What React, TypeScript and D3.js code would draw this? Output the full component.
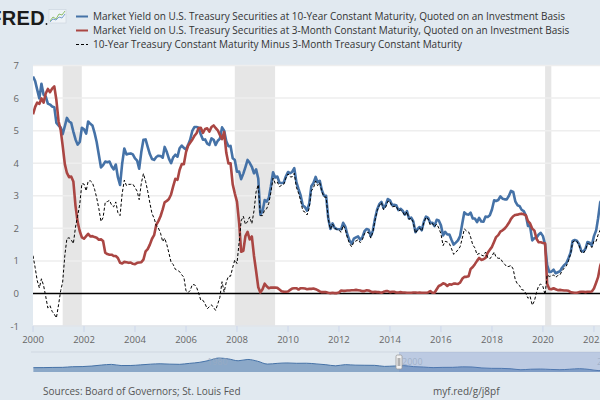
import React from "react";
import * as d3 from "d3";

const W = 600;
const H = 400;

// Monthly values, Jan 2000 .. May 2022
const tenYear = [
  6.66, 6.52, 6.26, 5.99, 6.44, 6.10, 6.05, 5.83, 5.80, 5.74, 5.72, 5.24,
  5.16, 5.10, 4.89, 5.14, 5.39, 5.28, 5.24, 4.97, 4.73, 4.57, 4.65, 5.09,
  5.04, 4.91, 5.28, 5.21, 5.16, 4.93, 4.65, 4.26, 3.87, 3.94, 4.05, 4.03,
  4.05, 3.90, 3.81, 3.96, 3.57, 3.33, 3.98, 4.45, 4.27, 4.29, 4.30, 4.27,
  4.15, 4.08, 3.83, 4.35, 4.72, 4.73, 4.50, 4.28, 4.13, 4.10, 4.19, 4.23,
  4.22, 4.17, 4.50, 4.34, 4.14, 4.00, 4.18, 4.26, 4.20, 4.46, 4.54, 4.47,
  4.42, 4.57, 4.72, 4.99, 5.11, 5.11, 5.09, 4.88, 4.72, 4.73, 4.60, 4.56,
  4.76, 4.72, 4.56, 4.69, 4.75, 5.10, 5.00, 4.67, 4.52, 4.53, 4.15, 4.10,
  3.74, 3.74, 3.51, 3.68, 3.88, 4.10, 4.01, 3.89, 3.69, 3.81, 3.53, 2.42,
  2.52, 2.87, 2.82, 2.93, 3.29, 3.72, 3.56, 3.59, 3.40, 3.39, 3.40, 3.59,
  3.73, 3.69, 3.73, 3.85, 3.42, 3.20, 3.01, 2.70, 2.65, 2.54, 2.76, 3.29,
  3.39, 3.58, 3.41, 3.46, 3.17, 3.00, 3.00, 2.30, 1.98, 2.15, 2.01, 1.98,
  1.97, 1.97, 2.17, 2.05, 1.80, 1.62, 1.53, 1.68, 1.72, 1.75, 1.65, 1.72,
  1.91, 1.98, 1.96, 1.76, 1.93, 2.30, 2.58, 2.74, 2.81, 2.62, 2.72, 2.90,
  2.86, 2.71, 2.72, 2.71, 2.56, 2.60, 2.54, 2.42, 2.53, 2.30, 2.33, 2.21,
  1.88, 1.98, 2.04, 1.94, 2.20, 2.36, 2.32, 2.17, 2.17, 2.07, 2.26, 2.24,
  2.09, 1.78, 1.89, 1.81, 1.81, 1.64, 1.50, 1.56, 1.63, 1.76, 2.14, 2.49,
  2.43, 2.42, 2.48, 2.30, 2.30, 2.19, 2.32, 2.21, 2.20, 2.36, 2.35, 2.40,
  2.58, 2.86, 2.84, 2.87, 2.98, 2.91, 2.89, 2.89, 3.00, 3.15, 3.12, 2.83,
  2.71, 2.68, 2.57, 2.53, 2.40, 2.07, 2.06, 1.63, 1.70, 1.71, 1.81, 1.86,
  1.76, 1.50, 0.87, 0.66, 0.67, 0.73, 0.62, 0.65, 0.68, 0.79, 0.87, 0.93,
  1.08, 1.26, 1.61, 1.64, 1.62, 1.52, 1.32, 1.28, 1.37, 1.58, 1.56, 1.47,
  1.76, 1.93, 2.30, 2.80, 2.90,
];

const threeMonth = [
  5.50, 5.73, 5.86, 5.82, 5.99, 5.86, 6.14, 6.28, 6.18, 6.29, 6.36, 5.94,
  5.29, 5.01, 4.54, 3.97, 3.70, 3.57, 3.59, 3.44, 2.69, 2.20, 1.91, 1.72,
  1.68, 1.76, 1.83, 1.75, 1.76, 1.73, 1.71, 1.65, 1.66, 1.61, 1.25, 1.21,
  1.19, 1.19, 1.15, 1.15, 1.09, 0.94, 0.92, 0.97, 0.96, 0.94, 0.95, 0.91,
  0.90, 0.94, 0.95, 0.96, 1.04, 1.29, 1.36, 1.50, 1.68, 1.79, 2.11, 2.22,
  2.37, 2.58, 2.80, 2.84, 2.90, 3.04, 3.29, 3.52, 3.49, 3.79, 3.97, 3.97,
  4.34, 4.54, 4.63, 4.72, 4.84, 4.92, 5.08, 5.09, 4.93, 5.05, 5.07, 4.97,
  5.11, 5.16, 5.08, 5.01, 4.87, 4.74, 4.96, 4.32, 3.99, 4.00, 3.35, 3.07,
  2.82, 2.17, 1.28, 1.31, 1.76, 1.89, 1.66, 1.75, 1.15, 0.69, 0.19, 0.03,
  0.13, 0.30, 0.22, 0.16, 0.18, 0.18, 0.18, 0.17, 0.12, 0.07, 0.05, 0.05,
  0.06, 0.11, 0.15, 0.16, 0.16, 0.12, 0.16, 0.16, 0.15, 0.13, 0.14, 0.14,
  0.15, 0.13, 0.10, 0.06, 0.04, 0.04, 0.04, 0.02, 0.01, 0.02, 0.01, 0.01,
  0.03, 0.09, 0.08, 0.08, 0.09, 0.09, 0.10, 0.10, 0.11, 0.10, 0.09, 0.07,
  0.07, 0.10, 0.09, 0.06, 0.04, 0.05, 0.04, 0.04, 0.02, 0.05, 0.07, 0.07,
  0.04, 0.05, 0.05, 0.03, 0.03, 0.04, 0.03, 0.03, 0.02, 0.02, 0.02, 0.03,
  0.03, 0.02, 0.03, 0.02, 0.02, 0.02, 0.03, 0.07, 0.02, 0.02, 0.13, 0.23,
  0.26, 0.31, 0.29, 0.23, 0.28, 0.27, 0.30, 0.30, 0.29, 0.33, 0.45, 0.51,
  0.51, 0.53, 0.75, 0.81, 0.90, 1.00, 1.09, 1.03, 1.05, 1.09, 1.25, 1.34,
  1.43, 1.59, 1.73, 1.79, 1.90, 1.94, 1.99, 2.07, 2.17, 2.29, 2.37, 2.41,
  2.42, 2.44, 2.45, 2.43, 2.40, 2.22, 2.15, 1.99, 1.93, 1.68, 1.57, 1.57,
  1.55, 1.54, 0.30, 0.14, 0.13, 0.16, 0.13, 0.10, 0.11, 0.10, 0.09, 0.09,
  0.08, 0.04, 0.03, 0.02, 0.02, 0.04, 0.05, 0.05, 0.04, 0.05, 0.05, 0.06,
  0.15, 0.33, 0.50, 0.85, 1.03,
];

const spread = [
  1.16, 0.79, 0.40, 0.17, 0.45, 0.24, -0.09, -0.45, -0.38, -0.55, -0.64, -0.75,
  -0.35, 0.09, 0.35, 1.17, 1.69, 1.71, 1.65, 1.53, 2.04, 2.37, 2.74, 3.37,
  3.36, 3.15, 3.45, 3.46, 3.40, 3.20, 2.94, 2.61, 2.21, 2.33, 2.80, 2.82,
  2.86, 2.71, 2.66, 2.81, 2.48, 2.39, 3.06, 3.48, 3.31, 3.35, 3.35, 3.36,
  3.25, 3.14, 2.88, 3.39, 3.68, 3.44, 3.14, 2.78, 2.45, 2.31, 2.08, 2.01,
  1.85, 1.59, 1.70, 1.50, 1.24, 0.96, 0.89, 0.74, 0.71, 0.67, 0.57, 0.50,
  0.08, 0.03, 0.09, 0.27, 0.27, 0.19, 0.01, -0.21, -0.21, -0.32, -0.47, -0.41,
  -0.35, -0.44, -0.52, -0.32, -0.12, 0.36, 0.04, 0.35, 0.53, 0.53, 0.80, 1.03,
  0.92, 1.57, 2.23, 2.37, 2.12, 2.21, 2.35, 2.14, 2.54, 3.12, 3.34, 2.39,
  2.39, 2.57, 2.60, 2.77, 3.11, 3.54, 3.38, 3.42, 3.28, 3.32, 3.35, 3.54,
  3.67, 3.58, 3.58, 3.69, 3.26, 3.08, 2.85, 2.54, 2.50, 2.41, 2.62, 3.15,
  3.24, 3.45, 3.31, 3.40, 3.13, 2.96, 2.96, 2.28, 1.97, 2.13, 2.00, 1.97,
  1.94, 1.88, 2.09, 1.97, 1.71, 1.53, 1.43, 1.58, 1.61, 1.65, 1.56, 1.65,
  1.84, 1.88, 1.87, 1.70, 1.89, 2.25, 2.54, 2.70, 2.79, 2.57, 2.65, 2.83,
  2.82, 2.66, 2.67, 2.68, 2.53, 2.56, 2.51, 2.39, 2.51, 2.28, 2.31, 2.18,
  1.85, 1.96, 2.01, 1.92, 2.18, 2.34, 2.29, 2.10, 2.15, 2.05, 2.13, 2.01,
  1.83, 1.47, 1.60, 1.58, 1.53, 1.37, 1.20, 1.26, 1.34, 1.43, 1.69, 1.98,
  1.92, 1.89, 1.73, 1.49, 1.40, 1.19, 1.23, 1.18, 1.15, 1.27, 1.10, 1.06,
  1.15, 1.27, 1.11, 1.08, 1.08, 0.97, 0.90, 0.82, 0.83, 0.86, 0.75, 0.42,
  0.29, 0.24, 0.12, 0.10, 0.00, -0.15, -0.09, -0.36, -0.23, 0.03, 0.24, 0.29,
  0.21, -0.04, 0.57, 0.52, 0.54, 0.57, 0.49, 0.55, 0.57, 0.69, 0.78, 0.84,
  1.00, 1.22, 1.58, 1.62, 1.60, 1.48, 1.27, 1.23, 1.33, 1.53, 1.51, 1.41,
  1.61, 1.60, 1.80, 1.95, 1.87,
];

const yTicks = [-1, 0, 1, 2, 3, 4, 5, 6, 7];
const xTickYears = [2000, 2002, 2004, 2006, 2008, 2010, 2012, 2014, 2016, 2018, 2020, 2022];
const recessions: [string, string][] = [
  ["2001-03-01", "2001-11-30"],
  ["2007-12-01", "2009-06-30"],
  ["2020-02-01", "2020-04-30"],
];

// Navigator overview (annual 10-year yield)
const navYears = d3.range(1962, 2023);
const navValues = [
  3.95, 4.00, 4.19, 4.28, 4.93, 5.07, 5.64, 6.67, 7.35, 6.16, 6.21, 6.85, 7.56, 7.99, 7.61, 7.42,
  8.41, 9.43, 11.43, 13.92, 13.01, 11.10, 12.46, 10.62, 7.67, 8.39, 8.85, 8.49, 8.55, 7.86, 7.01,
  5.87, 7.09, 6.57, 6.44, 6.35, 5.26, 5.65, 6.03, 5.02, 4.61, 4.01, 4.27, 4.29, 4.80, 4.63, 3.66,
  3.26, 3.22, 2.78, 1.80, 2.35, 2.54, 2.14, 1.84, 2.33, 2.91, 2.14, 0.89, 1.45, 2.40,
];
const navTickYears = [1980, 2000, 2020];

const legendLabels = [
  "Market Yield on U.S. Treasury Securities at 10-Year Constant Maturity, Quoted on an Investment Basis",
  "Market Yield on U.S. Treasury Securities at 3-Month Constant Maturity, Quoted on an Investment Basis",
  "10-Year Treasury Constant Maturity Minus 3-Month Treasury Constant Maturity",
];

const BLUE = "#4572a7";
const RED = "#aa4643";
const BG = "#e1e9f0";
const FONT = "'Open Sans', 'DejaVu Sans', sans-serif";

const plot = { left: 33, right: 601, top: 65.5, bottom: 326 };

export default function App() {
  const dates = d3.timeMonth.range(new Date(2000, 0, 1), new Date(2000, tenYear.length, 1));
  const x = d3
    .scaleTime()
    .domain([new Date(2000, 0, 1), new Date(2022, 2, 1)])
    .range([plot.left, 33 + 22.16 * 25.5]);
  const y = d3.scaleLinear().domain([-1, 7]).range([plot.bottom, plot.top]);

  const line = d3
    .line<number>()
    .x((_, i) => x(dates[i]))
    .y((d) => y(d))
    .curve(d3.curveLinear);

  const navX = d3.scaleLinear().domain([1980, 2000]).range([204, 399]);
  const navY = d3.scaleLinear().domain([0.5, 15]).range([371, 357]);
  const navArea = d3
    .area<number>()
    .x((_, i) => navX(navYears[i] + 0.5))
    .y0(372)
    .y1((d) => navY(d))
    .curve(d3.curveMonotoneX);
  const navLine = d3
    .line<number>()
    .x((_, i) => navX(navYears[i] + 0.5))
    .y((d) => navY(d))
    .curve(d3.curveMonotoneX);

  const legendY = [16.5, 30.5, 44.5];

  return (
    <svg
      width={W}
      height={H}
      style={{ position: "absolute", left: 0, top: 0, display: "block" }}
      fontFamily={FONT}
    >
      <defs>
        <clipPath id="plotClip">
          <rect x={plot.left} y={plot.top - 5} width={plot.right - plot.left} height={plot.bottom - plot.top + 5} />
        </clipPath>
        <clipPath id="navClip">
          <rect x={31} y={352} width={600} height={20} />
        </clipPath>
      </defs>
      <rect x={0} y={0} width={W} height={H} fill={BG} />

      {/* Header: logo and legend */}
      <text x={45} y={25} textAnchor="end" fontFamily="'Liberation Sans', Arial, sans-serif" fontWeight={700} fontSize={20} fill="#1b1b1b" letterSpacing={0.3}>
        FRED
      </text>
      <circle cx={46.5} cy={24} r={0.9} fill="#1b1b1b" />
      <rect x={49} y={9.5} width={17} height={13.5} fill="#eef3f7" stroke="#c9d3dd" strokeWidth={0.6} />
      <polyline points="50,21 53,17 56,19 59,14 62,15 65,11" fill="none" stroke="#8fbf6a" strokeWidth={1} />
      <polyline points="50,22 53,19 56,20 59,17 62,18 65,14" fill="none" stroke="#7aa0cf" strokeWidth={1} />

      {legendLabels.map((label, i) => (
        <g key={label}>
          <line
            x1={76}
            x2={88}
            y1={legendY[i]}
            y2={legendY[i]}
            stroke={i === 0 ? BLUE : i === 1 ? RED : "#000"}
            strokeWidth={i === 2 ? 1 : 2}
            strokeDasharray={i === 2 ? "3,2" : undefined}
          />
          <text x={93} y={legendY[i] + 3.5} fontSize={10} fill="#333">
            {label}
          </text>
        </g>
      ))}

      {/* Plot area */}
      <rect x={plot.left} y={plot.top} width={plot.right - plot.left} height={plot.bottom - plot.top} fill="#fff" />
      {recessions.map(([a, b]) => (
        <rect
          key={a}
          x={x(new Date(a))}
          y={plot.top}
          width={x(new Date(b)) - x(new Date(a))}
          height={plot.bottom - plot.top}
          fill="#e6e6e6"
        />
      ))}
      {yTicks
        .filter((t) => t !== 0)
        .map((t) => (
          <line key={t} x1={plot.left} x2={plot.right} y1={y(t)} y2={y(t)} stroke="#eeeeee" strokeWidth={1.5} />
        ))}
      <line x1={plot.left} x2={plot.right} y1={plot.bottom} y2={plot.bottom} stroke="#d8dfe8" strokeWidth={1} />
      {yTicks.map((t) => (
        <text key={t} x={19} y={y(t) + 3.5} textAnchor="end" fontSize={9.5} fill="#666">
          {t}
        </text>
      ))}
      {xTickYears.map((yr) => {
        const px = x(new Date(yr, 0, 1));
        return (
          <g key={yr}>
            <line x1={px} x2={px} y1={plot.bottom} y2={plot.bottom + 6} stroke="#ccd6eb" strokeWidth={1} />
            <text x={px} y={plot.bottom + 16.5} textAnchor="middle" fontSize={9.5} fill="#666">
              {yr}
            </text>
          </g>
        );
      })}

      <g clipPath="url(#plotClip)">
        <line x1={plot.left} x2={plot.right} y1={y(0)} y2={y(0)} stroke="#000" strokeWidth={1.6} />
        <path d={line(tenYear) ?? ""} fill="none" stroke={BLUE} strokeWidth={2.6} strokeLinejoin="round" />
        <path d={line(threeMonth) ?? ""} fill="none" stroke={RED} strokeWidth={2.6} strokeLinejoin="round" />
        <path d={line(spread) ?? ""} fill="none" stroke="#000" strokeWidth={1} strokeDasharray="3,2" />
      </g>

      {/* Navigator */}
      <line x1={31} x2={600} y1={352} y2={352} stroke="#cfd7e1" strokeWidth={1} />
      <g clipPath="url(#navClip)">
        <path d={navArea(navValues) ?? ""} fill={BLUE} fillOpacity={0.55} />
        <path d={navLine(navValues) ?? ""} fill="none" stroke={BLUE} strokeWidth={1} />
        <rect x={navX(2000)} y={352} width={600 - navX(2000) + 5} height={20} fill="#6685c2" fillOpacity={0.3} />
      </g>
      {navTickYears.map((yr) => (
        <text key={yr} x={navX(yr) + 3} y={365} fontSize={9} fill="#9aabc2" fillOpacity={0.8}>
          {yr}
        </text>
      ))}
      <rect x={navX(2000) - 3} y={355} width={6} height={14} rx={1.5} fill="#f2f2f2" stroke="#999" strokeWidth={0.8} />
      <line x1={navX(2000) - 0.8} x2={navX(2000) - 0.8} y1={358} y2={366} stroke="#555" strokeWidth={0.6} />
      <line x1={navX(2000) + 0.8} x2={navX(2000) + 0.8} y1={358} y2={366} stroke="#555" strokeWidth={0.6} />

      {/* Footer */}
      <text x={43} y={395} fontSize={10} fill="#555">
        Sources: Board of Governors; St. Louis Fed
      </text>
      <text x={433} y={395} fontSize={10} fill="#555">
        myf.red/g/j8pf
      </text>
    </svg>
  );
}
